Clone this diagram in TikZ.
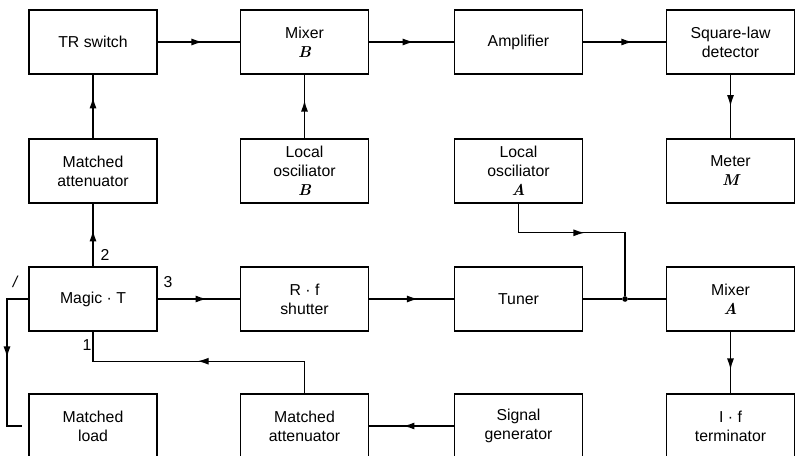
\documentclass[tikz,border=0pt]{standalone}
\usepackage{fontspec}
\setsansfont{Liberation Sans}
\usetikzlibrary{arrows.meta,decorations.markings}
\newcommand{\lettre}[1]{{\rmfamily\bfseries\itshape #1}}
\begin{document}
\begin{tikzpicture}[
	blok/.style = {draw, line width=0.9pt, minimum width=2.56cm, minimum height=1.28cm,
		inner sep=1pt, align=center, font=\sffamily\fontsize{9}{10.8}\selectfont},
	lien/.style = {line width=0.8pt},
	flow/.style = {lien, postaction={decorate},
		decoration={markings, mark=at position #1 with {\arrow{Latex[length=6.5pt,width=4pt]}}}},
	port/.style = {font=\sffamily\fontsize{9}{10}\selectfont, inner sep=0pt},
	jdot/.style = {circle, fill, inner sep=0pt, minimum size=3.2pt}
	]
	\useasboundingbox (0,0) rectangle (15.9,9.12);

	\node[blok] (tr)   at (1.86,8.28)  {TR switch};
	\node[blok] (mixb) at (6.09,8.28)  {Mixer\\\lettre{B}};
	\node[blok] (amp)  at (10.37,8.28) {Amplifier};
	\node[blok] (sqd)  at (14.61,8.28) {Square-law\\detector};

	\node[blok] (atta) at (1.86,5.70)  {Matched\\attenuator};
	\node[blok] (lob)  at (6.09,5.70)  {Local\\osciliator\\\lettre{B}};
	\node[blok] (loa)  at (10.37,5.70) {Local\\osciliator\\\lettre{A}};
	\node[blok] (met)  at (14.61,5.70) {Meter\\\lettre{M}};

	\node[blok] (magic) at (1.86,3.14)  {Magic · T};
	\node[blok] (rfs)   at (6.09,3.14)  {R · f\\shutter};
	\node[blok] (tun)   at (10.37,3.14) {Tuner};
	\node[blok] (mixa)  at (14.61,3.14) {Mixer\\\lettre{A}};

	\node[blok] (load) at (1.86,0.60)  {Matched\\load};
	\node[blok] (attb) at (6.09,0.60)  {Matched\\attenuator};
	\node[blok] (sig)  at (10.37,0.60) {Signal\\generator};
	\node[blok] (ift)  at (14.61,0.60) {I · f\\terminator};

	\node[jdot] (jn) at (12.5,3.14) {};
	\coordinate (p4) at (0.14,3.14);

	\draw[flow=0.55] (tr) -- (mixb);
	\draw[flow=0.53] (mixb) -- (amp);
	\draw[flow=0.6]  (amp) -- (sqd);
	\draw[flow=0.5]  (sqd) -- (met);
	\draw[flow=0.65] (atta) -- (tr);
	\draw[flow=0.6]  (lob) -- (mixb);
	\draw[flow=0.58] (magic) -- (atta);
	\draw[flow=0.6]  (magic) -- (rfs);
	\draw[flow=0.58] (rfs) -- (tun);
	\draw[lien]      (tun) -- (jn) -- (mixa);
	\draw[flow=0.48] (loa.south) -- ++(0,-0.58) -| (jn);
	\draw[flow=0.62] (mixa) -- (ift);
	\draw[flow=0.6]  (sig) -- (attb);
	\draw[flow=0.51] (attb.north) -- ++(0,0.64) -| (magic.south);
	\draw[flow=0.49] (magic.west) -- (p4) |- ([xshift=-0.12cm]load.west);

	\node[port] (n2) at (2.1,4.02)  {2};
	\node[port] (n3) at (3.36,3.47) {3};
	\node[port] (n1) at (1.74,2.22) {1};
	\node[port] (n4) at (0.3,3.48)  {\itshape /};
\end{tikzpicture}
\end{document}
